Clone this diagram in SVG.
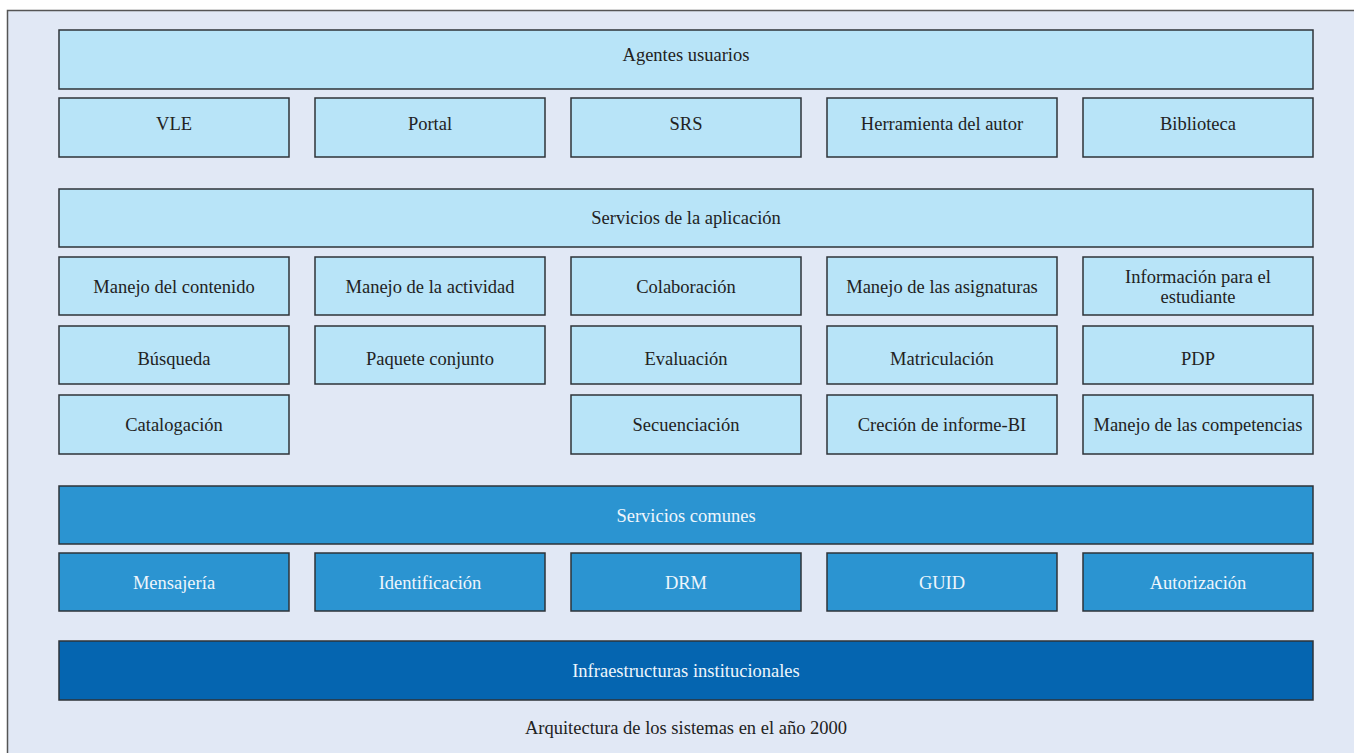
<svg xmlns="http://www.w3.org/2000/svg" width="1354" height="753" viewBox="0 0 1354 753" font-family="'Liberation Serif', 'DejaVu Serif', serif">
<style>
.bx{stroke:#2e3338;stroke-width:1.5}
.l{fill:#b8e4f8}
.m{fill:#2b94d1}
.d{fill:#0565b0}
text{font-size:18.5px;text-anchor:middle;dominant-baseline:central}
.dk{fill:#222}
.wt{fill:#eef6fc}
</style>
<rect x="0" y="0" width="1354" height="753" fill="#ffffff"/>
<rect x="7.5" y="10.5" width="1360" height="760" fill="#e1e8f5" stroke="#555" stroke-width="1.5"/>
<g id="agentes"><rect class="bx l" x="59" y="30" width="1254" height="59"/><text class="dk" x="686" y="55">Agentes usuarios</text></g>
<g id="vle"><rect class="bx l" x="59" y="98" width="230" height="59"/><text class="dk" x="174" y="124">VLE</text></g>
<g id="portal"><rect class="bx l" x="315" y="98" width="230" height="59"/><text class="dk" x="430" y="124">Portal</text></g>
<g id="srs"><rect class="bx l" x="571" y="98" width="230" height="59"/><text class="dk" x="686" y="124">SRS</text></g>
<g id="herramienta"><rect class="bx l" x="827" y="98" width="230" height="59"/><text class="dk" x="942" y="124">Herramienta del autor</text></g>
<g id="biblioteca"><rect class="bx l" x="1083" y="98" width="230" height="59"/><text class="dk" x="1198" y="124">Biblioteca</text></g>
<g id="servicios-app"><rect class="bx l" x="59" y="189" width="1254" height="58"/><text class="dk" x="686" y="218">Servicios de la aplicación</text></g>
<g id="contenido"><rect class="bx l" x="59" y="257" width="230" height="58"/><text class="dk" x="174" y="287">Manejo del contenido</text></g>
<g id="actividad"><rect class="bx l" x="315" y="257" width="230" height="58"/><text class="dk" x="430" y="287">Manejo de la actividad</text></g>
<g id="colaboracion"><rect class="bx l" x="571" y="257" width="230" height="58"/><text class="dk" x="686" y="287">Colaboración</text></g>
<g id="asignaturas"><rect class="bx l" x="827" y="257" width="230" height="58"/><text class="dk" x="942" y="287">Manejo de las asignaturas</text></g>
<g id="informacion"><rect class="bx l" x="1083" y="257" width="230" height="58"/><text class="dk" x="1198" y="277">Información para el</text><text class="dk" x="1198" y="297">estudiante</text></g>
<g id="busqueda"><rect class="bx l" x="59" y="326" width="230" height="58"/><text class="dk" x="174" y="359">Búsqueda</text></g>
<g id="paquete"><rect class="bx l" x="315" y="326" width="230" height="58"/><text class="dk" x="430" y="359">Paquete conjunto</text></g>
<g id="evaluacion"><rect class="bx l" x="571" y="326" width="230" height="58"/><text class="dk" x="686" y="359">Evaluación</text></g>
<g id="matriculacion"><rect class="bx l" x="827" y="326" width="230" height="58"/><text class="dk" x="942" y="359">Matriculación</text></g>
<g id="pdp"><rect class="bx l" x="1083" y="326" width="230" height="58"/><text class="dk" x="1198" y="359">PDP</text></g>
<g id="catalogacion"><rect class="bx l" x="59" y="395" width="230" height="59"/><text class="dk" x="174" y="425">Catalogación</text></g>
<g id="secuenciacion"><rect class="bx l" x="571" y="395" width="230" height="59"/><text class="dk" x="686" y="425">Secuenciación</text></g>
<g id="informe"><rect class="bx l" x="827" y="395" width="230" height="59"/><text class="dk" x="942" y="425">Creción de informe-BI</text></g>
<g id="competencias"><rect class="bx l" x="1083" y="395" width="230" height="59"/><text class="dk" x="1198" y="425">Manejo de las competencias</text></g>
<g id="servicios-comunes"><rect class="bx m" x="59" y="486" width="1254" height="58"/><text class="wt" x="686" y="516">Servicios comunes</text></g>
<g id="mensajeria"><rect class="bx m" x="59" y="553" width="230" height="58"/><text class="wt" x="174" y="583">Mensajería</text></g>
<g id="identificacion"><rect class="bx m" x="315" y="553" width="230" height="58"/><text class="wt" x="430" y="583">Identificación</text></g>
<g id="drm"><rect class="bx m" x="571" y="553" width="230" height="58"/><text class="wt" x="686" y="583">DRM</text></g>
<g id="guid"><rect class="bx m" x="827" y="553" width="230" height="58"/><text class="wt" x="942" y="583">GUID</text></g>
<g id="autorizacion"><rect class="bx m" x="1083" y="553" width="230" height="58"/><text class="wt" x="1198" y="583">Autorización</text></g>
<g id="infra"><rect class="bx d" x="59" y="641" width="1254" height="59"/><text class="wt" x="686" y="671">Infraestructuras institucionales</text></g>
<g id="connectors"></g>
<text class="dk" x="686" y="728">Arquitectura de los sistemas en el año 2000</text>
</svg>
